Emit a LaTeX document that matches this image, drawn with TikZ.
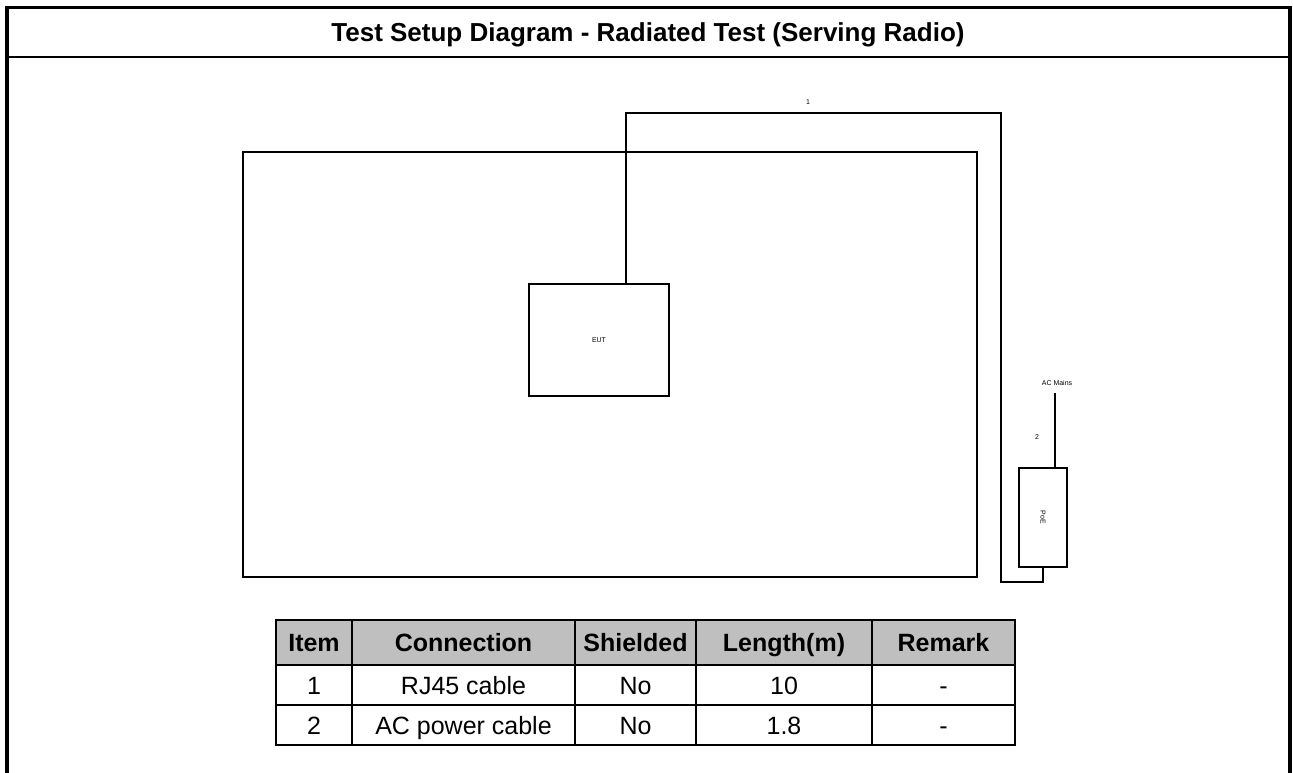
\documentclass[tikz,border=0pt]{standalone}
\usepackage{fontspec}
\setmainfont{Liberation Sans}
\definecolor{head-grey}{HTML}{BFBFBF}

\begin{document}
\begin{tikzpicture}[x=1pt, y=-1pt,
        every node/.style={font=\fontsize{25}{27}\selectfont, inner sep=0pt},
        cable/.style={line width=2.8pt},
        tiny/.style={font=\fontsize{7}{8}\selectfont}]
      \useasboundingbox (0,0) rectangle (1293,773);
      % outer frame and title row
      \draw[line width=3.5pt] (7,773) -- (7,7.5) -- (1290,7.5) -- (1290,773);
      \draw[line width=2.5pt] (7,57) -- (1290,57);
      \node[font=\fontsize{26}{28}\selectfont\bfseries, anchor=base] (title) at (648,41.5)
            {Test Setup Diagram - Radiated Test (Serving Radio)};
      % test room
      \node[draw, cable, minimum width=734pt, minimum height=425pt]
            (room) at (610,364.5) {};
      \node[draw, cable, minimum width=140pt, minimum height=112pt, tiny]
            (eut) at (599,340) {EUT};
      \node[draw, cable, minimum width=48pt, minimum height=99pt]
            (poe) at (1043,517.5) {};
      \node[tiny, rotate=-90] (poetxt) at (poe.center) {PoE};
      \coordinate (r1) at (1001,113);
      \coordinate (r2) at (1001,582);
      \coordinate (ac) at (1055,393);
      \draw[cable] ([xshift=27pt]eut.north) |- (r1) -- (r2) -| (poe.south);
      \draw[cable] (poe.north -| ac) -- (ac);
      \node[tiny] (l1) at (808,102) {1};
      \node[tiny] (l2) at (1037,437) {2};
      \node[tiny, anchor=south] (mains) at (1057,386) {AC Mains};
      % cable table
      \fill[head-grey] (276,620) rectangle (1015,665);
      \draw[line width=1.6pt] (276,620) rectangle (1015,745);
      \foreach \y in {665,705}
        \draw[line width=1.2pt] (276,\y) -- (1015,\y);
      \foreach \x in {352,575,696,872}
        \draw[line width=1.2pt] (\x,620) -- (\x,745);
      \foreach \cx/\hd/\ra/\rb [count=\i] in
          {314/Item/1/2, 463.5/Connection/RJ45 cable/AC power cable,
           635.5/Shielded/No/No, 784/Length(m)/10/1.8, 943.5/Remark/-/-}{
        \node[font=\fontsize{25}{27}\selectfont\bfseries, anchor=base]
              (hd\i) at (\cx,651.5) {\hd};
        \node[anchor=base] (ra\i) at (\cx,694) {\ra};
        \node[anchor=base] (rb\i) at (\cx,734) {\rb};
      }
    \end{tikzpicture}
\end{document}
